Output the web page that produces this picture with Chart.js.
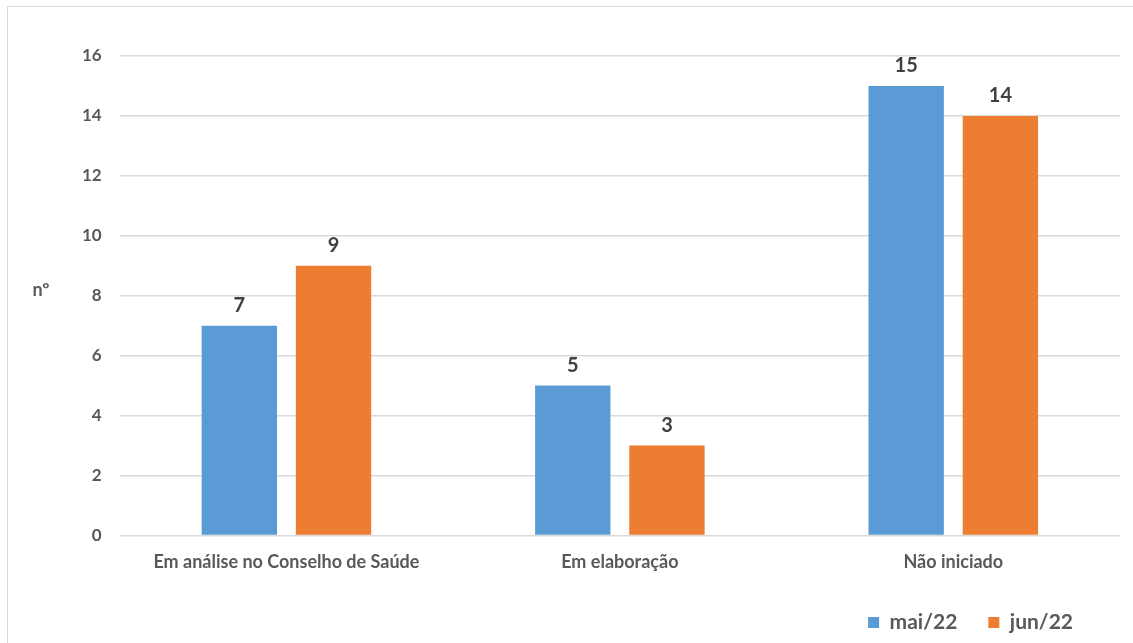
<!DOCTYPE html>
<html>
<head>
<meta charset="utf-8">
<script src="https://cdn.jsdelivr.net/npm/chart.js@4.4.0/dist/chart.umd.min.js"></script>
<style>
  body { margin: 0; background: #fff; overflow: hidden; }
  #frame {
    position: absolute; left: 7px; top: 6px;
    width: 1140px; height: 650px;
    border: 1px solid #d9d9d9;
  }
  #wrap { position: absolute; left: 0; top: 0; width: 1125px; height: 636px; }
</style>
</head>
<body>
<div id="frame">
  <div id="wrap"><canvas id="myChart"></canvas></div>
</div>
<script>
// chart data
const categories = ['Em análise no Conselho de Saúde', 'Em elaboração', 'Não iniciado'];
const seriesNames = ['mai/22', 'jun/22'];
const mai22 = [7, 5, 15];
const jun22 = [9, 3, 14];
const yTicks = [0, 2, 4, 6, 8, 10, 12, 14, 16];
const yTitle = 'nº';

const textGray = '#595959';
const gridGray = '#d9d9d9';

// draws the value on top of each bar
const barLabels = {
  id: 'barLabels',
  afterDatasetsDraw(chart) {
    const ctx = chart.ctx;
    ctx.save();
    ctx.font = 'bold 20px Lato';
    ctx.fillStyle = '#404040';
    ctx.textAlign = 'center';
    ctx.textBaseline = 'middle';
    chart.data.datasets.forEach((ds, i) => {
      chart.getDatasetMeta(i).data.forEach((bar, j) => {
        ctx.fillText(ds.data[j], bar.x, bar.y - 20);
      });
    });
    ctx.restore();
  }
};

// horizontal axis title ("nº") on the left
const sideTitle = {
  id: 'sideTitle',
  afterDraw(chart) {
    const ctx = chart.ctx;
    const area = chart.chartArea;
    ctx.save();
    ctx.font = 'bold 18px Lato';
    ctx.fillStyle = textGray;
    ctx.textAlign = 'center';
    ctx.textBaseline = 'middle';
    ctx.fillText(yTitle, 33, (area.top + area.bottom) / 2 - 6);
    ctx.restore();
  }
};

// nudge legend a bit to the left
const legendShift = {
  id: 'legendShift',
  afterLayout(chart) {
    chart.legend.left -= 16;
    chart.legend.right -= 16;
  }
};

new Chart(document.getElementById('myChart'), {
  type: 'bar',
  data: {
    labels: categories,
    datasets: [
      { label: seriesNames[0], data: mai22, backgroundColor: '#5b9bd5' },
      { label: seriesNames[1], data: jun22, backgroundColor: '#ed7d31' }
    ]
  },
  options: {
    responsive: true,
    maintainAspectRatio: false,
    animation: false,
    datasets: { bar: { barPercentage: 0.8, categoryPercentage: 0.565 } },
    layout: { padding: { left: 56, right: 13, top: 49, bottom: 0 } },
    plugins: {
      legend: {
        position: 'bottom',
        align: 'end',
        labels: {
          boxWidth: 11,
          boxHeight: 11,
          padding: 31,
          color: textGray,
          font: { family: 'Lato', size: 21, weight: 'bold' }
        }
      },
      tooltip: { enabled: false }
    },
    scales: {
      x: {
        grid: { display: false },
        border: { display: false },
        ticks: {
          color: textGray,
          padding: 8,
          font: { family: 'Lato', size: 18, weight: 'bold' }
        }
      },
      y: {
        min: 0,
        max: 16,
        afterBuildTicks(axis) { axis.ticks = yTicks.map(v => ({ value: v })); },
        grid: { color: gridGray, lineWidth: 1.5, drawTicks: false },
        border: { display: false },
        ticks: {
          color: textGray,
          padding: 18,
          font: { family: 'Lato', size: 17, weight: 'bold' }
        }
      }
    }
  },
  plugins: [barLabels, sideTitle, legendShift]
});
</script>
</body>
</html>
